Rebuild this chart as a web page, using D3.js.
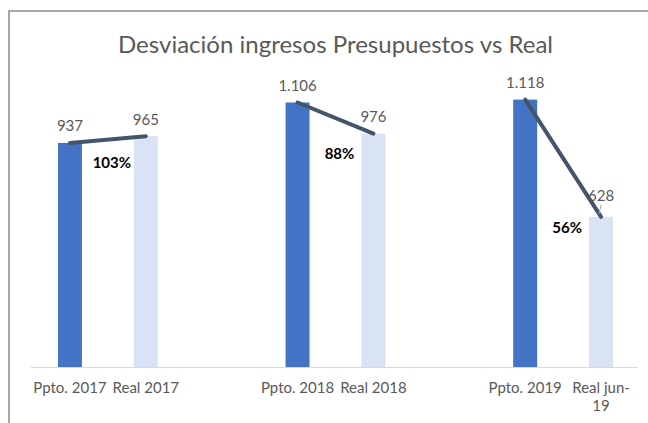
<!DOCTYPE html>
<html>
<head>
<meta charset="utf-8">
<script src="https://cdn.jsdelivr.net/npm/d3@7"></script>
<style>
  body { margin: 0; background: #fff; }
  svg { display: block; font-family: Lato, "Open Sans", sans-serif; }
</style>
</head>
<body>
<div id="chart"></div>
<script>
// data
var categories = ["Ppto. 2017", "Real 2017", "Ppto. 2018", "Real 2018", "Ppto. 2019", "Real jun-19"];
var years = ["2017", "2018", "2019"];
var presupuesto = [937, 1106, 1118];
var real = [965, 976, 628];
var yTicks = [0, 1200];   // value range of the (hidden) vertical axis

var width = 648, height = 423;
var colPpto = "#4472C4", colReal = "#DAE3F3", colLine = "#44546A", colText = "#595959";

// es-ES style thousands separator
var fmt = d3.formatLocale({ decimal: ",", thousands: ".", grouping: [3], currency: ["", "€"] }).format(",d");
var pct = d3.format(".0%");

var svg = d3.select("#chart")
  .append("svg")
  .attr("width", width)
  .attr("height", height);

svg.append("rect").attr("width", width).attr("height", height).attr("fill", "#fff");

// frame (top + left edges visible)
svg.append("path")
  .attr("d", "M9,423V11H648")
  .attr("fill", "none")
  .attr("stroke", "#a6a6a6")
  .attr("stroke-width", 2);

svg.append("text")
  .attr("x", 335.5)
  .attr("y", 53)
  .attr("text-anchor", "middle")
  .attr("font-size", 24)
  .attr("fill", colText)
  .attr("textLength", 435)
  .attr("lengthAdjust", "spacingAndGlyphs")
  .text("Desviación ingresos Presupuestos vs Real");

// each year takes 3 slots: ppto, real, gap (last gap dropped)
var nSlots = years.length * 3 - 1;
var x = d3.scaleBand()
  .domain(d3.range(nSlots))
  .range([32, 639])
  .paddingInner(0.684)
  .paddingOuter(0.342);

var y = d3.scaleLinear()
  .domain(d3.extent(yTicks))
  .range([367, 80]);

var bars = [];
years.forEach(function(yr, i) {
  bars.push({ slot: i * 3, value: presupuesto[i], label: categories[i * 2], kind: "ppto" });
  bars.push({ slot: i * 3 + 1, value: real[i], label: categories[i * 2 + 1], kind: "real" });
});

svg.append("g")
  .selectAll("rect")
  .data(bars)
  .enter().append("rect")
    .attr("x", function(d) { return x(d.slot); })
    .attr("y", function(d) { return y(d.value); })
    .attr("width", x.bandwidth())
    .attr("height", function(d) { return y(0) - y(d.value); })
    .attr("fill", function(d) { return d.kind == "ppto" ? colPpto : colReal; });

// x axis
var labelBySlot = {};
bars.forEach(function(d) { labelBySlot[d.slot] = d.label; });

var xAxis = svg.append("g")
  .attr("transform", "translate(0," + y(0) + ")")
  .call(d3.axisBottom(x)
    .tickValues(bars.map(function(d) { return d.slot; }))
    .tickSize(0)
    .tickFormat(function(d) { return labelBySlot[d]; }));

xAxis.select(".domain").attr("stroke", "#d9d9d9").attr("d", "M31,0.5H638");
xAxis.selectAll("text")
  .attr("font-size", 15)
  .attr("font-family", "Lato, sans-serif")
  .attr("fill", colText)
  .attr("y", 25.5)
  .attr("dy", null)
  .each(function(d) {
    var t = d3.select(this), words = t.text();
    if (words == "Real jun-19") {
      t.text(null);
      t.append("tspan").attr("x", 0).attr("y", 25.5).text("Real jun-");
      t.append("tspan").attr("x", 0).attr("y", 44).text("19");
    }
  });

// deviation lines
var pairs = years.map(function(yr, i) {
  return { p: presupuesto[i], r: real[i], sp: i * 3, sr: i * 3 + 1 };
});
var cx = function(s) { return x(s) + x.bandwidth() / 2; };

svg.append("g")
  .selectAll("line")
  .data(pairs)
  .enter().append("line")
    .attr("x1", function(d) { return cx(d.sp); })
    .attr("y1", function(d) { return y(d.p); })
    .attr("x2", function(d) { return cx(d.sr); })
    .attr("y2", function(d) { return y(d.r); })
    .attr("stroke", colLine)
    .attr("stroke-width", 4)
    .attr("stroke-linecap", "round");

// value labels (last one pushed up a bit, Excel leader line)
var lift = [0, 0, 0, 0, 0, 4.5];
svg.append("g")
  .selectAll("text")
  .data(bars)
  .enter().append("text")
    .attr("x", function(d) { return cx(d.slot); })
    .attr("y", function(d, i) { return y(d.value) - 11.5 - lift[i]; })
    .attr("text-anchor", "middle")
    .attr("font-size", 15)
    .attr("fill", colText)
    .text(function(d) { return fmt(d.value); });

var last = bars[bars.length - 1];
svg.append("line")
  .attr("x1", cx(last.slot) - 2)
  .attr("y1", y(last.value) - 3)
  .attr("x2", cx(last.slot))
  .attr("y2", y(last.value) - 12)
  .attr("stroke", "#a6a6a6")
  .attr("stroke-width", 1);

// % real / ppto
var pctDrop = [32, 25, 16];
svg.append("g")
  .selectAll("text")
  .data(pairs)
  .enter().append("text")
    .attr("x", function(d) { return (cx(d.sp) + cx(d.sr)) / 2 + 4; })
    .attr("y", function(d, i) { return y(d.r) + pctDrop[i]; })
    .attr("text-anchor", "middle")
    .attr("font-size", 15)
    .attr("font-weight", "bold")
    .attr("fill", "#000")
    .text(function(d) { return pct(d.r / d.p); });
</script>
</body>
</html>
